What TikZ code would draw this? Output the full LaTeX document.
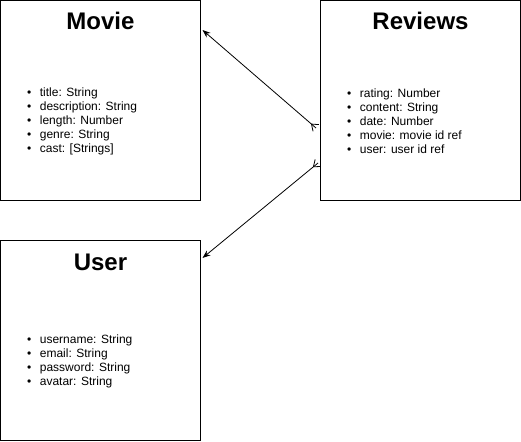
\documentclass[tikz,border=0pt]{standalone}
\usepackage{fontspec}
\setmainfont{Liberation Sans}
\usetikzlibrary{arrows.meta,positioning,calc}

\newcommand{\fld}[1]{\textbullet\hspace{8.5pt}#1}
% crow's foot at the first point, opening towards it
\newcommand{\crowfoot}[2]{%
  \draw[line width=0.8pt] ($(#1)!6pt!(#2)$) -- ($(#1)!4.5pt!90:(#2)$);
  \draw[line width=0.8pt] ($(#1)!6pt!(#2)$) -- ($(#1)!4.5pt!-90:(#2)$);}

\begin{document}
\begin{tikzpicture}[x=1pt, y=-1pt,
  entity/.style={rectangle, draw, line width=1pt, minimum size=200pt, inner sep=0pt},
  title/.style={font=\fontsize{24}{28}\selectfont\bfseries, inner sep=0pt},
  fields/.style={align=left, anchor=west, inner sep=0pt, font=\fontsize{12}{14}\selectfont},
  link/.style={line width=0.8pt, -{Stealth[length=8pt, width=6pt]}}]
  \useasboundingbox (0,0) rectangle (521,441);
  \node[entity] (movie) at (100.5,100.5) {};
  \node[entity] (reviews) at (420.5,100.5) {};
  \node[entity] (user) at (100.5,340.5) {};
  % titles
  \node[title] (movieTitle) at ([shift={(0,21)}]movie.north) {Movie};
  \node[title] (reviewsTitle) at ([shift={(0,21)}]reviews.north) {Reviews};
  \node[title] (userTitle) at ([shift={(0,22)}]user.north) {User};
  % field lists
  \node[fields] (movieFields) at ([shift={(27,121)}]movie.north west)
    {\fld{title: String}\\ \fld{description: String}\\ \fld{length: Number}\\ \fld{genre: String}\\ \fld{cast: [Strings]}};
  \node[fields] (reviewsFields) at ([shift={(27,121)}]reviews.north west)
    {\fld{rating: Number}\\ \fld{content: String}\\ \fld{date: Number}\\ \fld{movie: movie id ref}\\ \fld{user: user id ref}};
  \node[fields] (userFields) at ([shift={(27,121)}]user.north west)
    {\fld{username: String}\\ \fld{email: String}\\ \fld{password: String}\\ \fld{avatar: String}};
  % connectors
  \coordinate (movieIn) at ([shift={(1.5,30)}]movie.north east);
  \coordinate (userIn) at ([shift={(1.5,18)}]user.north east);
  \coordinate (reviewsOut1) at ([shift={(-4,128)}]reviews.north west);
  \coordinate (reviewsOut2) at ([shift={(-2,163)}]reviews.north west);
  \draw[link] (reviewsOut1) -- (movieIn);
  \draw[link] (reviewsOut2) -- (userIn);
  \crowfoot{reviewsOut1}{movieIn}
  \crowfoot{reviewsOut2}{userIn}
\end{tikzpicture}
\end{document}
